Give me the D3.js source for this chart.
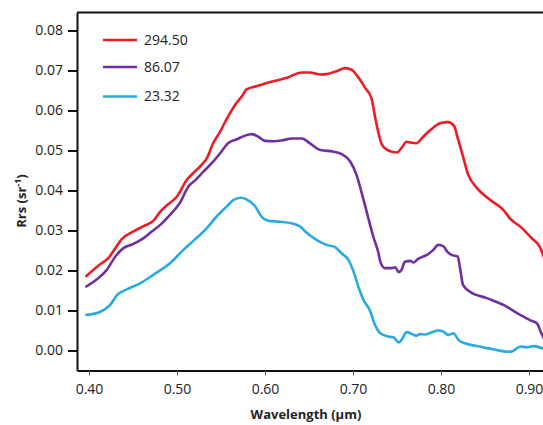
<!DOCTYPE html>
<html>
<head>
<meta charset="utf-8">
<script src="https://cdn.jsdelivr.net/npm/d3@7"></script>
<style>
  html, body { margin: 0; padding: 0; background: #fff; }
  svg { display: block; }
  text { font-family: "Open Sans", "Noto Sans", sans-serif; fill: #222; }
</style>
</head>
<body>
<svg id="chart" width="543" height="425"></svg>
<script>
// ---- data ----
const seriesNames = ["294.50", "86.07", "23.32"];
const seriesColors = ["#ed1c24", "#7030a0", "#29abe2"];

const redWl  = [0.397,0.413,0.422,0.430,0.437,0.450,0.462,0.473,0.481,0.488,0.500,0.511,0.521,0.528,0.534,0.541,0.549,0.557,0.566,0.574,0.579,0.591,0.606,0.625,0.642,0.651,0.663,0.670,0.682,0.691,0.699,0.704,0.714,0.721,0.725,0.729,0.733,0.740,0.750,0.755,0.761,0.765,0.772,0.780,0.789,0.799,0.808,0.815,0.819,0.824,0.831,0.841,0.856,0.871,0.878,0.892,0.903,0.913,0.918];
const redRrs = [0.0186,0.0216,0.0231,0.0256,0.0278,0.0297,0.0311,0.0324,0.0347,0.0362,0.0385,0.0426,0.0449,0.0464,0.0481,0.0518,0.0547,0.0581,0.0614,0.0636,0.0653,0.0661,0.0671,0.0682,0.0695,0.0695,0.0690,0.0691,0.0699,0.0706,0.0701,0.0689,0.0656,0.0631,0.0585,0.0543,0.0514,0.0500,0.0495,0.0506,0.0522,0.0520,0.0518,0.0535,0.0553,0.0568,0.0571,0.0561,0.0531,0.0493,0.0439,0.0406,0.0376,0.0351,0.0331,0.0306,0.0281,0.0256,0.0226];

const purpleWl  = [0.397,0.409,0.420,0.430,0.439,0.450,0.462,0.471,0.481,0.492,0.503,0.513,0.521,0.530,0.541,0.549,0.558,0.568,0.577,0.585,0.592,0.600,0.609,0.621,0.630,0.642,0.651,0.663,0.678,0.687,0.697,0.704,0.710,0.716,0.723,0.729,0.731,0.736,0.744,0.748,0.752,0.755,0.759,0.765,0.769,0.774,0.784,0.791,0.797,0.803,0.807,0.812,0.819,0.822,0.825,0.833,0.852,0.871,0.890,0.901,0.909,0.914,0.918];
const purpleRrs = [0.0160,0.0178,0.0201,0.0235,0.0256,0.0266,0.0281,0.0297,0.0314,0.0339,0.0368,0.0410,0.0426,0.0447,0.0472,0.0493,0.0518,0.0528,0.0537,0.0541,0.0535,0.0524,0.0523,0.0526,0.0530,0.0530,0.0518,0.0501,0.0497,0.0491,0.0472,0.0439,0.0393,0.0343,0.0285,0.0243,0.0222,0.0206,0.0206,0.0208,0.0196,0.0201,0.0222,0.0224,0.0220,0.0229,0.0239,0.0251,0.0264,0.0260,0.0247,0.0239,0.0235,0.0201,0.0164,0.0147,0.0131,0.0114,0.0089,0.0076,0.0068,0.0043,0.0026];

const blueWl  = [0.397,0.413,0.424,0.432,0.443,0.458,0.473,0.492,0.507,0.521,0.534,0.545,0.557,0.564,0.572,0.579,0.589,0.596,0.604,0.617,0.630,0.640,0.647,0.659,0.670,0.680,0.687,0.695,0.700,0.706,0.712,0.719,0.725,0.731,0.740,0.746,0.752,0.755,0.761,0.767,0.772,0.776,0.782,0.789,0.797,0.803,0.808,0.814,0.820,0.827,0.841,0.859,0.877,0.882,0.890,0.897,0.905,0.918];
const blueRrs = [0.0089,0.0097,0.0114,0.0139,0.0153,0.0168,0.0189,0.0218,0.0251,0.0279,0.0306,0.0335,0.0361,0.0376,0.0382,0.0378,0.0360,0.0335,0.0324,0.0322,0.0318,0.0310,0.0295,0.0276,0.0264,0.0258,0.0243,0.0226,0.0201,0.0160,0.0126,0.0101,0.0064,0.0043,0.0035,0.0033,0.0020,0.0026,0.0046,0.0041,0.0037,0.0041,0.0040,0.0045,0.0050,0.0047,0.0039,0.0043,0.0026,0.0018,0.0011,0.0003,-0.0003,-0.0001,0.0010,0.0008,0.0011,0.0003];

const xTicks = [0.40, 0.50, 0.60, 0.70, 0.80, 0.90];
const yTicks = [0.00, 0.01, 0.02, 0.03, 0.04, 0.05, 0.06, 0.07, 0.08];
const xTitle = "Wavelength (µm)";

// ---- layout ----
const svg = d3.select("#chart");
const plotLeft = 77, plotRight = 553, plotTop = 12.5, plotBottom = 370.5;

const x = d3.scaleLinear().domain([0.38636, 0.92727]).range([plotLeft, plotRight]);
const y = d3.scaleLinear().domain([-0.005, 0.0845]).range([plotBottom, plotTop]);

const series = [
  { name: seriesNames[0], color: seriesColors[0], wl: redWl, v: redRrs },
  { name: seriesNames[1], color: seriesColors[1], wl: purpleWl, v: purpleRrs },
  { name: seriesNames[2], color: seriesColors[2], wl: blueWl, v: blueRrs }
];

// top frame line
svg.append("line")
  .attr("x1", plotLeft).attr("x2", 600)
  .attr("y1", plotTop).attr("y2", plotTop)
  .attr("stroke", "#111").attr("stroke-width", 2);

// x axis
const gx = svg.append("g").attr("transform", `translate(0,${plotBottom})`)
  .call(d3.axisBottom(x).tickValues(xTicks).tickFormat(d3.format(".2f"))
    .tickSize(5).tickSizeOuter(0).tickPadding(9));
gx.select(".domain").attr("stroke", "#111").attr("stroke-width", 2);
gx.selectAll(".tick line").attr("stroke", "#555").attr("stroke-width", 1);
gx.selectAll(".tick text").attr("font-size", 14).attr("fill", "#222")
  .attr("font-family", "'Open Sans', sans-serif");

// y axis
const gy = svg.append("g").attr("transform", `translate(${plotLeft},0)`)
  .call(d3.axisLeft(y).tickValues(yTicks).tickFormat(d3.format(".2f"))
    .tickSize(9).tickSizeOuter(0).tickPadding(5));
gy.select(".domain").attr("stroke", "#111").attr("stroke-width", 2);
gy.selectAll(".tick line").attr("stroke", "#111").attr("stroke-width", 2);
gy.selectAll(".tick text").attr("font-size", 14).attr("fill", "#222")
  .attr("font-family", "'Open Sans', sans-serif");

// lines
const line = d3.line()
  .x(d => x(d[0]))
  .y(d => y(d[1]))
  .curve(d3.curveMonotoneX);

series.forEach(s => {
  const pts = s.wl.map((w, i) => [w, s.v[i]]);
  svg.append("path")
    .datum(pts)
    .attr("d", line)
    .attr("fill", "none")
    .attr("stroke", s.color)
    .attr("stroke-width", 2.6)
    .attr("stroke-linejoin", "round")
    .attr("stroke-linecap", "round");
});

// legend
const legendY = [40, 67, 96.5];
series.forEach((s, i) => {
  svg.append("line")
    .attr("x1", 103).attr("x2", 137)
    .attr("y1", legendY[i]).attr("y2", legendY[i])
    .attr("stroke", s.color).attr("stroke-width", 2.6);
  svg.append("text")
    .attr("x", 144).attr("y", legendY[i]).attr("dy", "0.35em")
    .attr("font-size", 14)
    .text(s.name);
});

// axis titles
svg.append("text")
  .attr("x", 306).attr("y", 419)
  .attr("text-anchor", "middle")
  .attr("font-size", 13).attr("font-weight", "bold")
  .text(xTitle);

const yt = svg.append("text")
  .attr("transform", "translate(26,201) rotate(-90)")
  .attr("text-anchor", "middle")
  .attr("font-size", 13).attr("font-weight", "bold");
yt.append("tspan").text("Rrs (sr");
yt.append("tspan").attr("font-size", 9).attr("dy", -5).text("-1");
yt.append("tspan").attr("dy", 5).text(")");
</script>
</body>
</html>
